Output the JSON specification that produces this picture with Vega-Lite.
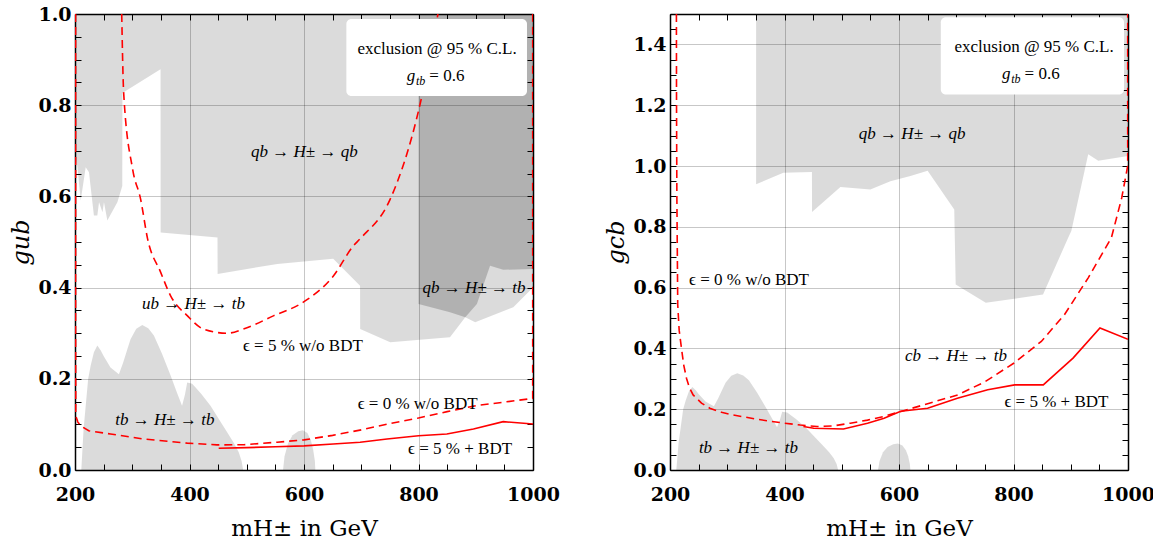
{
  "$schema": "https://vega.github.io/schema/vega-lite/v6.json",
  "background": "white",
  "padding": {"left": 9, "top": 5, "right": 20, "bottom": 5},
  "autosize": {"type": "pad"},
  "bounds": "flush",
  "spacing": 137,
  "config": {
    "view": {"stroke": null},
    "axis": {
      "labelFont": "DejaVu Serif", "labelFontWeight": "bold", "labelFontSize": 19, "labelColor": "black",
      "labelFlush": false, "labelOverlap": false, "labelBound": false,
      "tickColor": "black", "tickWidth": 1, "tickSize": -6,
      "domainColor": "black", "domainWidth": 1.5,
      "titleFont": "DejaVu Serif", "titleFontSize": 23, "titleFontWeight": "normal", "titleColor": "black",
      "gridColor": "#000000", "gridWidth": 1
    }
  },
  "datasets": {
    "leftA": [{"m":200,"g":0.69},{"m":204,"g":0.667},{"m":210,"g":0.591},{"m":218.7,"g":0.664},{"m":224.4,"g":0.653},{"m":233,"g":0.558},{"m":239,"g":0.558},{"m":242,"g":0.587},{"m":248,"g":0.565},{"m":250.6,"g":0.587},{"m":256.5,"g":0.547},{"m":274,"g":0.587},{"m":282.6,"g":0.623},{"m":282.8,"g":0.827},{"m":349.4,"g":0.879},{"m":349.6,"g":0.521},{"m":448.9,"g":0.51},{"m":449.1,"g":0.43},{"m":553.5,"g":0.452},{"m":651,"g":0.463},{"m":697.9,"g":0.404},{"m":698.1,"g":0.309},{"m":750.6,"g":0.28},{"m":855,"g":0.291},{"m":881.7,"g":0.335},{"m":899,"g":0.324},{"m":965.6,"g":0.357},{"m":1000,"g":0.4}],
    "leftB": [{"m":800,"g":0.364},{"m":855,"g":0.346},{"m":881.7,"g":0.335},{"m":902,"g":0.364},{"m":925,"g":0.448},{"m":948,"g":0.439},{"m":1000,"g":0.441}],
    "tb": [{"b":1,"m":211,"g":0},{"b":1,"m":215,"g":0.09},{"b":1,"m":218.7,"g":0.141},{"b":1,"m":223,"g":0.2},{"b":1,"m":227.4,"g":0.229},{"b":1,"m":233,"g":0.258},{"b":1,"m":239,"g":0.273},{"b":1,"m":245,"g":0.262},{"b":1,"m":250,"g":0.25},{"b":1,"m":262,"g":0.225},{"b":1,"m":276.7,"g":0.21},{"b":1,"m":284,"g":0.235},{"b":1,"m":291.4,"g":0.265},{"b":1,"m":297,"g":0.287},{"b":1,"m":307,"g":0.31},{"b":1,"m":317.5,"g":0.318},{"b":1,"m":328,"g":0.311},{"b":1,"m":337.8,"g":0.295},{"b":1,"m":352,"g":0.255},{"b":1,"m":367,"g":0.207},{"b":1,"m":378,"g":0.17},{"b":1,"m":387,"g":0.141},{"b":1,"m":392,"g":0.165},{"b":1,"m":396,"g":0.192},{"b":1,"m":404.7,"g":0.189},{"b":1,"m":420,"g":0.168},{"b":1,"m":436.7,"g":0.141},{"b":1,"m":452,"g":0.11},{"b":1,"m":465.8,"g":0.083},{"b":1,"m":478,"g":0.058},{"b":1,"m":486,"g":0.039},{"b":1,"m":491,"g":0.02},{"b":1,"m":493.7,"g":0},
      {"b":2,"m":563.4,"g":0},{"b":2,"m":566,"g":0.03},{"b":2,"m":572,"g":0.058},{"b":2,"m":580,"g":0.076},{"b":2,"m":590,"g":0.085},{"b":2,"m":598,"g":0.087},{"b":2,"m":606,"g":0.081},{"b":2,"m":612,"g":0.065},{"b":2,"m":616,"g":0.045},{"b":2,"m":619,"g":0.02},{"b":2,"m":619.8,"g":0}],
    "leftZero": [{"i":1,"m":201,"g":1.0},{"i":2,"m":201,"g":0.3},{"i":3,"m":201.3,"g":0.119},{"i":4,"m":205,"g":0.105},{"i":5,"m":210,"g":0.097},{"i":6,"m":224,"g":0.086},{"i":7,"m":262,"g":0.079},{"i":8,"m":320,"g":0.068},{"i":9,"m":396,"g":0.059},{"i":10,"m":448,"g":0.055},{"i":11,"m":495,"g":0.0555},{"i":12,"m":553,"g":0.061},{"i":13,"m":600,"g":0.066},{"i":14,"m":650,"g":0.076},{"i":15,"m":700,"g":0.088},{"i":16,"m":750,"g":0.102},{"i":17,"m":800,"g":0.114},{"i":18,"m":850,"g":0.128},{"i":19,"m":900,"g":0.141},{"i":20,"m":950,"g":0.149},{"i":21,"m":999.5,"g":0.157},{"i":22,"m":999.5,"g":1.0}],
    "leftFive": [{"m":281.6,"g":1.0},{"m":285,"g":0.827},{"m":300.6,"g":0.66},{"m":314.6,"g":0.594},{"m":326.8,"g":0.507},{"m":349.5,"g":0.434},{"m":367,"g":0.382},{"m":396.5,"g":0.338},{"m":424.4,"g":0.309},{"m":466,"g":0.3},{"m":494,"g":0.309},{"m":546.5,"g":0.338},{"m":598.8,"g":0.368},{"m":651,"g":0.425},{"m":686,"g":0.491},{"m":698,"g":0.507},{"m":750.6,"g":0.594},{"m":802.9,"g":0.803},{"m":834,"g":1.0}],
    "leftSolid": [{"m":451,"g":0.0476},{"m":500,"g":0.049},{"m":550,"g":0.051},{"m":600,"g":0.053},{"m":651,"g":0.057},{"m":698,"g":0.061},{"m":745,"g":0.068},{"m":800,"g":0.075},{"m":849.5,"g":0.079},{"m":896,"g":0.09},{"m":948,"g":0.106},{"m":1000,"g":0.101}],
    "leftBox": [{"m":674,"m2":989.5,"g":0.82,"g2":0.989}],
    "leftBoxText": [{"m":832.4,"g":0.923,"t":"exclusion @ 95 % C.L."}],
    "leftG": [{"m":812,"g":0.864,"a":"g","s":"tb","c":"= 0.6"}],
    "leftMath": [{"m":600.6,"g":0.697,"t":"qb → H± → qb"},{"m":407,"g":0.364,"t":"ub → H± → tb"},{"m":357,"g":0.11,"t":"tb → H± → tb"},{"m":897,"g":0.399,"t":"qb → H± → tb"}],
    "leftEps": [{"m":598,"g":0.272,"t":"ϵ = 5 % w/o BDT"},{"m":798.5,"g":0.145,"t":"ϵ = 0 % w/o BDT"},{"m":872.6,"g":0.046,"t":"ϵ = 5 % + BDT"}],
    "rightQ": [{"m":350.4,"g":0.94},{"m":398,"g":0.978},{"m":447.9,"g":0.98},{"m":448.1,"g":0.849},{"m":497.7,"g":0.931},{"m":550,"g":0.923},{"m":585,"g":0.95},{"m":620,"g":0.967},{"m":650,"g":0.984},{"m":696.5,"g":0.857},{"m":699,"g":0.61},{"m":751.6,"g":0.55},{"m":851.6,"g":0.577},{"m":895.5,"g":0.764},{"m":901,"g":0.786},{"m":930.5,"g":1.039},{"m":948,"g":1.017},{"m":1000,"g":1.033}],
    "rightZero": [{"i":1,"m":211.2,"g":1.5},{"i":2,"m":211.4,"g":1.2},{"i":3,"m":212,"g":0.9},{"i":4,"m":213.5,"g":0.544},{"i":5,"m":216,"g":0.46},{"i":6,"m":220,"g":0.401},{"i":7,"m":224,"g":0.345},{"i":8,"m":228.8,"g":0.302},{"i":9,"m":234,"g":0.27},{"i":10,"m":240.4,"g":0.247},{"i":11,"m":255,"g":0.22},{"i":12,"m":269.6,"g":0.203},{"i":13,"m":290,"g":0.19},{"i":14,"m":310,"g":0.181},{"i":15,"m":340,"g":0.171},{"i":16,"m":369,"g":0.162},{"i":17,"m":400,"g":0.154},{"i":18,"m":427.5,"g":0.148},{"i":19,"m":456.8,"g":0.143},{"i":20,"m":485,"g":0.145},{"i":21,"m":515,"g":0.154},{"i":22,"m":545,"g":0.164},{"i":23,"m":573,"g":0.176},{"i":24,"m":608,"g":0.195},{"i":25,"m":650,"g":0.218},{"i":26,"m":702.5,"g":0.247},{"i":27,"m":750,"g":0.29},{"i":28,"m":801,"g":0.352},{"i":29,"m":848.6,"g":0.423},{"i":30,"m":889,"g":0.511},{"i":31,"m":930.5,"g":0.632},{"i":32,"m":971,"g":0.764},{"i":33,"m":989,"g":0.895},{"i":34,"m":999.5,"g":1.0},{"i":35,"m":999.5,"g":1.5}],
    "rightSolid": [{"m":433,"g":0.143},{"m":451,"g":0.1375},{"m":503,"g":0.135},{"m":545,"g":0.154},{"m":574,"g":0.17},{"m":603,"g":0.193},{"m":650,"g":0.203},{"m":702,"g":0.236},{"m":755,"g":0.264},{"m":802,"g":0.28},{"m":852,"g":0.28},{"m":904,"g":0.368},{"m":951,"g":0.467},{"m":1000,"g":0.43}],
    "rightBox": [{"m":673,"m2":993,"g":1.235,"g2":1.489}],
    "rightBoxText": [{"m":836,"g":1.39,"t":"exclusion @ 95 % C.L."}],
    "rightG": [{"m":812.3,"g":1.301,"a":"g","s":"tb","c":"= 0.6"}],
    "rightMath": [{"m":623,"g":1.104,"t":"qb → H± → qb"},{"m":699.5,"g":0.375,"t":"cb → H± → tb"},{"m":337,"g":0.0715,"t":"tb → H± → tb"}],
    "rightEps": [{"m":338,"g":0.625,"t":"ϵ = 0 % w/o BDT"},{"m":875,"g":0.223,"t":"ϵ = 5 % + BDT"}]
  },
  "hconcat": [
    {
      "width": 458, "height": 456,
      "resolve": {"axis": {"x": "independent", "y": "independent"}},
      "layer": [
        {"data": {"name": "leftA"}, "mark": {"type": "area", "fill": "black", "fillOpacity": 0.14},
         "encoding": {
           "x": {"field": "m", "type": "quantitative", "scale": {"domain": [200, 1000], "nice": false, "zero": false},
                 "axis": {"orient": "bottom", "values": [200,250,300,350,400,450,500,550,600,650,700,750,800,850,900,950,1000],
                          "labelExpr": "datum.value % 200 === 0 ? format(datum.value, 'd') : ''",
                          "grid": true, "gridOpacity": {"condition": {"test": "datum.value % 200 === 0", "value": 0.22}, "value": 0},
                          "labelPadding": 21, "title": "mH± in GeV", "titlePadding": 13}},
           "y": {"field": "g", "type": "quantitative", "scale": {"domain": [0, 1], "nice": false, "zero": false},
                 "axis": {"orient": "left", "values": [0,0.05,0.1,0.15,0.2,0.25,0.3,0.35,0.4,0.45,0.5,0.55,0.6,0.65,0.7,0.75,0.8,0.85,0.9,0.95,1],
                          "labelExpr": "abs(datum.value*5 - round(datum.value*5)) < 0.001 ? format(datum.value, '.1f') : ''",
                          "grid": true, "gridOpacity": {"condition": {"test": "abs(datum.value*5 - round(datum.value*5)) < 0.001", "value": 0.22}, "value": 0},
                          "labelPadding": 10, "title": "gub", "titleFontStyle": "italic", "titleFontSize": 24, "titlePadding": 4}},
           "y2": {"datum": 1}
         }},
        {"data": {"name": "leftB"}, "mark": {"type": "area", "fill": "black", "fillOpacity": 0.19},
         "encoding": {
           "x": {"field": "m", "type": "quantitative", "scale": {"domain": [200, 1000], "nice": false, "zero": false}, "axis": null},
           "y": {"field": "g", "type": "quantitative", "scale": {"domain": [0, 1], "nice": false, "zero": false}, "axis": null},
           "y2": {"datum": 1}
         }},
        {"data": {"name": "tb"}, "mark": {"type": "area", "fill": "black", "fillOpacity": 0.14},
         "encoding": {
           "x": {"field": "m", "type": "quantitative", "scale": {"domain": [200, 1000], "nice": false, "zero": false}, "axis": null},
           "y": {"field": "g", "type": "quantitative", "stack": null, "scale": {"domain": [0, 1], "nice": false, "zero": false}, "axis": null},
           "y2": {"datum": 0},
           "detail": {"field": "b", "type": "nominal"}
         }},
        {"data": {"name": "leftZero"}, "mark": {"type": "line", "stroke": "#ff0000", "strokeWidth": 1.6, "strokeDash": [8, 5], "clip": true},
         "encoding": {
           "x": {"field": "m", "type": "quantitative", "scale": {"domain": [200, 1000], "nice": false, "zero": false}, "axis": null},
           "y": {"field": "g", "type": "quantitative", "scale": {"domain": [0, 1], "nice": false, "zero": false}, "axis": null},
           "order": {"field": "i", "type": "quantitative"}
         }},
        {"data": {"name": "leftFive"}, "mark": {"type": "line", "stroke": "#ff0000", "strokeWidth": 1.6, "strokeDash": [8, 5], "clip": true, "interpolate": "monotone"},
         "encoding": {
           "x": {"field": "m", "type": "quantitative", "scale": {"domain": [200, 1000], "nice": false, "zero": false}, "axis": null},
           "y": {"field": "g", "type": "quantitative", "scale": {"domain": [0, 1], "nice": false, "zero": false}, "axis": null}
         }},
        {"data": {"name": "leftSolid"}, "mark": {"type": "line", "stroke": "#ff0000", "strokeWidth": 1.6, "clip": true},
         "encoding": {
           "x": {"field": "m", "type": "quantitative", "scale": {"domain": [200, 1000], "nice": false, "zero": false}, "axis": null},
           "y": {"field": "g", "type": "quantitative", "scale": {"domain": [0, 1], "nice": false, "zero": false}, "axis": null}
         }},
        {"data": {"name": "leftBox"}, "mark": {"type": "rect", "fill": "white", "cornerRadius": 5},
         "encoding": {
           "x": {"field": "m", "type": "quantitative", "scale": {"domain": [200, 1000], "nice": false, "zero": false},
                 "axis": {"orient": "top", "values": [200,250,300,350,400,450,500,550,600,650,700,750,800,850,900,950,1000], "labels": false, "grid": false, "title": null}},
           "x2": {"field": "m2"},
           "y": {"field": "g", "type": "quantitative", "scale": {"domain": [0, 1], "nice": false, "zero": false},
                 "axis": {"orient": "right", "values": [0,0.05,0.1,0.15,0.2,0.25,0.3,0.35,0.4,0.45,0.5,0.55,0.6,0.65,0.7,0.75,0.8,0.85,0.9,0.95,1], "labels": false, "grid": false, "title": null}},
           "y2": {"field": "g2"}
         }},
        {"data": {"name": "leftBoxText"}, "mark": {"type": "text", "font": "Liberation Serif", "fontSize": 17, "color": "black", "align": "center", "baseline": "middle"},
         "encoding": {
           "x": {"field": "m", "type": "quantitative", "scale": {"domain": [200, 1000], "nice": false, "zero": false}, "axis": null},
           "y": {"field": "g", "type": "quantitative", "scale": {"domain": [0, 1], "nice": false, "zero": false}, "axis": null},
           "text": {"field": "t"}
         }},
        {"data": {"name": "leftG"}, "mark": {"type": "text", "font": "Liberation Serif", "fontSize": 17, "fontStyle": "italic", "color": "black", "align": "right", "baseline": "middle", "dx": -10},
         "encoding": {
           "x": {"field": "m", "type": "quantitative", "scale": {"domain": [200, 1000], "nice": false, "zero": false}, "axis": null},
           "y": {"field": "g", "type": "quantitative", "scale": {"domain": [0, 1], "nice": false, "zero": false}, "axis": null},
           "text": {"field": "a"}
         }},
        {"data": {"name": "leftG"}, "mark": {"type": "text", "font": "Liberation Serif", "fontSize": 12, "fontStyle": "italic", "color": "black", "align": "right", "baseline": "middle", "dy": 5},
         "encoding": {
           "x": {"field": "m", "type": "quantitative", "scale": {"domain": [200, 1000], "nice": false, "zero": false}, "axis": null},
           "y": {"field": "g", "type": "quantitative", "scale": {"domain": [0, 1], "nice": false, "zero": false}, "axis": null},
           "text": {"field": "s"}
         }},
        {"data": {"name": "leftG"}, "mark": {"type": "text", "font": "Liberation Serif", "fontSize": 17, "color": "black", "align": "left", "baseline": "middle", "dx": 4},
         "encoding": {
           "x": {"field": "m", "type": "quantitative", "scale": {"domain": [200, 1000], "nice": false, "zero": false}, "axis": null},
           "y": {"field": "g", "type": "quantitative", "scale": {"domain": [0, 1], "nice": false, "zero": false}, "axis": null},
           "text": {"field": "c"}
         }},
        {"data": {"name": "leftMath"}, "mark": {"type": "text", "font": "Liberation Serif", "fontSize": 17, "fontStyle": "italic", "color": "black", "align": "center", "baseline": "middle"},
         "encoding": {
           "x": {"field": "m", "type": "quantitative", "scale": {"domain": [200, 1000], "nice": false, "zero": false}, "axis": null},
           "y": {"field": "g", "type": "quantitative", "scale": {"domain": [0, 1], "nice": false, "zero": false}, "axis": null},
           "text": {"field": "t"}
         }},
        {"data": {"name": "leftEps"}, "mark": {"type": "text", "font": "Liberation Serif", "fontSize": 17, "color": "black", "align": "center", "baseline": "middle"},
         "encoding": {
           "x": {"field": "m", "type": "quantitative", "scale": {"domain": [200, 1000], "nice": false, "zero": false}, "axis": null},
           "y": {"field": "g", "type": "quantitative", "scale": {"domain": [0, 1], "nice": false, "zero": false}, "axis": null},
           "text": {"field": "t"}
         }}
      ]
    },
    {
      "width": 458, "height": 456,
      "resolve": {"axis": {"x": "independent", "y": "independent"}},
      "layer": [
        {"data": {"name": "rightQ"}, "mark": {"type": "area", "fill": "black", "fillOpacity": 0.14},
         "encoding": {
           "x": {"field": "m", "type": "quantitative", "scale": {"domain": [200, 1000], "nice": false, "zero": false},
                 "axis": {"orient": "bottom", "values": [200,250,300,350,400,450,500,550,600,650,700,750,800,850,900,950,1000],
                          "labelExpr": "datum.value % 200 === 0 ? format(datum.value, 'd') : ''",
                          "grid": true, "gridOpacity": {"condition": {"test": "datum.value % 200 === 0", "value": 0.22}, "value": 0},
                          "labelPadding": 21, "title": "mH± in GeV", "titlePadding": 13}},
           "y": {"field": "g", "type": "quantitative", "scale": {"domain": [0, 1.5], "nice": false, "zero": false},
                 "axis": {"orient": "left", "values": [0,0.05,0.1,0.15,0.2,0.25,0.3,0.35,0.4,0.45,0.5,0.55,0.6,0.65,0.7,0.75,0.8,0.85,0.9,0.95,1,1.05,1.1,1.15,1.2,1.25,1.3,1.35,1.4,1.45,1.5],
                          "labelExpr": "abs(datum.value*5 - round(datum.value*5)) < 0.001 ? format(datum.value, '.1f') : ''",
                          "grid": true, "gridOpacity": {"condition": {"test": "abs(datum.value*5 - round(datum.value*5)) < 0.001", "value": 0.22}, "value": 0},
                          "labelPadding": 10, "title": "gcb", "titleFontStyle": "italic", "titleFontSize": 24, "titlePadding": 4}},
           "y2": {"datum": 1.5}
         }},
        {"data": {"name": "tb"}, "mark": {"type": "area", "fill": "black", "fillOpacity": 0.14},
         "encoding": {
           "x": {"field": "m", "type": "quantitative", "scale": {"domain": [200, 1000], "nice": false, "zero": false}, "axis": null},
           "y": {"field": "g", "type": "quantitative", "stack": null, "scale": {"domain": [0, 1.5], "nice": false, "zero": false}, "axis": null},
           "y2": {"datum": 0},
           "detail": {"field": "b", "type": "nominal"}
         }},
        {"data": {"name": "rightZero"}, "mark": {"type": "line", "stroke": "#ff0000", "strokeWidth": 1.6, "strokeDash": [8, 5], "clip": true},
         "encoding": {
           "x": {"field": "m", "type": "quantitative", "scale": {"domain": [200, 1000], "nice": false, "zero": false}, "axis": null},
           "y": {"field": "g", "type": "quantitative", "scale": {"domain": [0, 1.5], "nice": false, "zero": false}, "axis": null},
           "order": {"field": "i", "type": "quantitative"}
         }},
        {"data": {"name": "rightSolid"}, "mark": {"type": "line", "stroke": "#ff0000", "strokeWidth": 1.6, "clip": true},
         "encoding": {
           "x": {"field": "m", "type": "quantitative", "scale": {"domain": [200, 1000], "nice": false, "zero": false}, "axis": null},
           "y": {"field": "g", "type": "quantitative", "scale": {"domain": [0, 1.5], "nice": false, "zero": false}, "axis": null}
         }},
        {"data": {"name": "rightBox"}, "mark": {"type": "rect", "fill": "white", "cornerRadius": 5},
         "encoding": {
           "x": {"field": "m", "type": "quantitative", "scale": {"domain": [200, 1000], "nice": false, "zero": false},
                 "axis": {"orient": "top", "values": [200,250,300,350,400,450,500,550,600,650,700,750,800,850,900,950,1000], "labels": false, "grid": false, "title": null}},
           "x2": {"field": "m2"},
           "y": {"field": "g", "type": "quantitative", "scale": {"domain": [0, 1.5], "nice": false, "zero": false},
                 "axis": {"orient": "right", "values": [0,0.05,0.1,0.15,0.2,0.25,0.3,0.35,0.4,0.45,0.5,0.55,0.6,0.65,0.7,0.75,0.8,0.85,0.9,0.95,1,1.05,1.1,1.15,1.2,1.25,1.3,1.35,1.4,1.45,1.5], "labels": false, "grid": false, "title": null}},
           "y2": {"field": "g2"}
         }},
        {"data": {"name": "rightBoxText"}, "mark": {"type": "text", "font": "Liberation Serif", "fontSize": 17, "color": "black", "align": "center", "baseline": "middle"},
         "encoding": {
           "x": {"field": "m", "type": "quantitative", "scale": {"domain": [200, 1000], "nice": false, "zero": false}, "axis": null},
           "y": {"field": "g", "type": "quantitative", "scale": {"domain": [0, 1.5], "nice": false, "zero": false}, "axis": null},
           "text": {"field": "t"}
         }},
        {"data": {"name": "rightG"}, "mark": {"type": "text", "font": "Liberation Serif", "fontSize": 17, "fontStyle": "italic", "color": "black", "align": "right", "baseline": "middle", "dx": -10},
         "encoding": {
           "x": {"field": "m", "type": "quantitative", "scale": {"domain": [200, 1000], "nice": false, "zero": false}, "axis": null},
           "y": {"field": "g", "type": "quantitative", "scale": {"domain": [0, 1.5], "nice": false, "zero": false}, "axis": null},
           "text": {"field": "a"}
         }},
        {"data": {"name": "rightG"}, "mark": {"type": "text", "font": "Liberation Serif", "fontSize": 12, "fontStyle": "italic", "color": "black", "align": "right", "baseline": "middle", "dy": 5},
         "encoding": {
           "x": {"field": "m", "type": "quantitative", "scale": {"domain": [200, 1000], "nice": false, "zero": false}, "axis": null},
           "y": {"field": "g", "type": "quantitative", "scale": {"domain": [0, 1.5], "nice": false, "zero": false}, "axis": null},
           "text": {"field": "s"}
         }},
        {"data": {"name": "rightG"}, "mark": {"type": "text", "font": "Liberation Serif", "fontSize": 17, "color": "black", "align": "left", "baseline": "middle", "dx": 4},
         "encoding": {
           "x": {"field": "m", "type": "quantitative", "scale": {"domain": [200, 1000], "nice": false, "zero": false}, "axis": null},
           "y": {"field": "g", "type": "quantitative", "scale": {"domain": [0, 1.5], "nice": false, "zero": false}, "axis": null},
           "text": {"field": "c"}
         }},
        {"data": {"name": "rightMath"}, "mark": {"type": "text", "font": "Liberation Serif", "fontSize": 17, "fontStyle": "italic", "color": "black", "align": "center", "baseline": "middle"},
         "encoding": {
           "x": {"field": "m", "type": "quantitative", "scale": {"domain": [200, 1000], "nice": false, "zero": false}, "axis": null},
           "y": {"field": "g", "type": "quantitative", "scale": {"domain": [0, 1.5], "nice": false, "zero": false}, "axis": null},
           "text": {"field": "t"}
         }},
        {"data": {"name": "rightEps"}, "mark": {"type": "text", "font": "Liberation Serif", "fontSize": 17, "color": "black", "align": "center", "baseline": "middle"},
         "encoding": {
           "x": {"field": "m", "type": "quantitative", "scale": {"domain": [200, 1000], "nice": false, "zero": false}, "axis": null},
           "y": {"field": "g", "type": "quantitative", "scale": {"domain": [0, 1.5], "nice": false, "zero": false}, "axis": null},
           "text": {"field": "t"}
         }}
      ]
    }
  ]
}
